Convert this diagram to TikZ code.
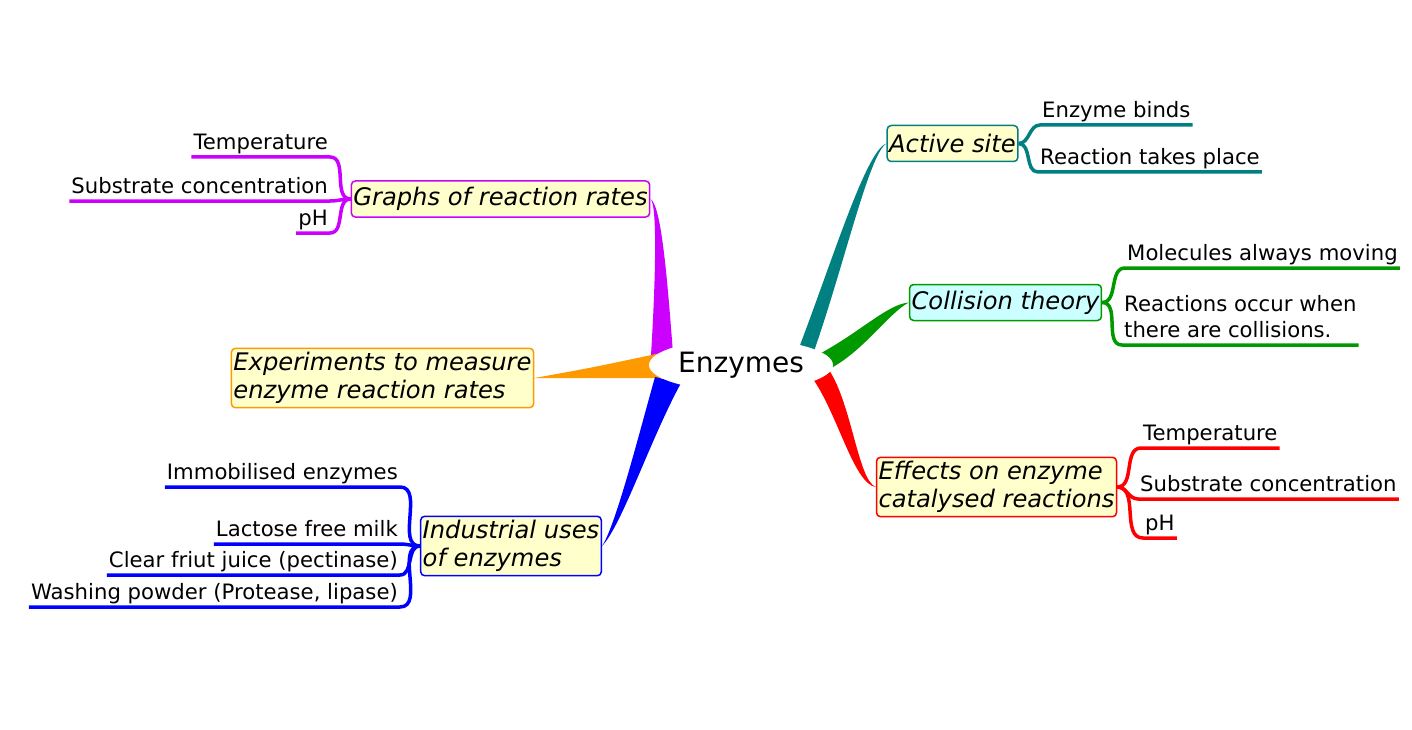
\documentclass[tikz,border=0pt]{standalone}
\usepackage{fontspec}
\setmainfont{DejaVu Sans}
\usetikzlibrary{shapes.geometric, calc, backgrounds}
\definecolor{mmteal}{RGB}{0,128,128}
\definecolor{mmgreen}{RGB}{0,153,0}
\definecolor{mmred}{RGB}{255,0,0}
\definecolor{mmpurple}{RGB}{204,0,255}
\definecolor{mmorange}{RGB}{255,153,0}
\definecolor{mmblue}{RGB}{0,0,255}
\definecolor{topicfill}{RGB}{255,255,204}
\definecolor{cyanfill}{RGB}{204,255,255}

\begin{document}
\begin{tikzpicture}[x=1pt, y=-1pt,
	topic/.style={draw, line width=1.5pt, rounded corners=4pt, fill=topicfill, align=left,
		font=\fontsize{24.2}{28}\selectfont\itshape, inner xsep=2pt, inner ysep=4pt, minimum height=36pt},
	leaf/.style={font=\fontsize{21.2}{26}\selectfont, align=left, inner xsep=2pt, inner ysep=1pt, text depth=6pt},
	twig/.style={line width=3.5pt}]
	\useasboundingbox (0,0) rectangle (1412,730);
	\node[ellipse, fill=white, minimum width=184pt, minimum height=52pt, inner sep=0pt, font=\fontsize{28}{34}\selectfont] (root) at (741,365) {Enzymes};
	% topics
	\node[topic, draw=mmteal] (act) at (952.5,143.5) {Active site};
	\node[topic, draw=mmgreen, fill=cyanfill] (coll) at (1005.5,302.5) {Collision theory};
	\node[topic, draw=mmred] (eff) at (996.5,487) {Effects on enzyme\\catalysed reactions};
	\node[topic, draw=mmpurple] (graphs) at (500.5,199) {Graphs of reaction rates};
	\node[topic, draw=mmorange] (exp) at (382.5,378) {Experiments to measure\\enzyme reaction rates};
	\node[topic, draw=mmblue] (ind) at (511,546) {Industrial uses\\of enzymes};
	% leaves
	\node[leaf, anchor=south west] (as1) at (1040,125) {Enzyme binds};
	\node[leaf, anchor=south west] (as2) at (1038,172) {Reaction takes place};
	\node[leaf, anchor=south west] (co1) at (1125,268) {Molecules always moving};
	\node[leaf, anchor=south west] (co2) at (1122,345) {Reactions occur when\\there are collisions.};
	\node[leaf, anchor=south west] (ef1) at (1141,448) {Temperature};
	\node[leaf, anchor=south west] (ef2) at (1138,499) {Substrate concentration};
	\node[leaf, anchor=south west] (ef3) at (1143,538) {pH};
	\node[leaf, anchor=south east] (gr1) at (330,157) {Temperature};
	\node[leaf, anchor=south east] (gr2) at (330,201) {Substrate concentration};
	\node[leaf, anchor=south east] (gr3) at (330,233) {pH};
	\node[leaf, anchor=south east] (in1) at (400,487) {Immobilised enzymes};
	\node[leaf, anchor=south east] (in2) at (400,544) {Lactose free milk};
	\node[leaf, anchor=south east] (in3) at (400,575) {Clear friut juice (pectinase)};
	\node[leaf, anchor=south east] (in4) at (400,607) {Washing powder (Protease, lipase)};
	% twigs
	\foreach \c in {as1,as2}
		\draw[twig, mmteal] (act.east) to[out=0, in=180] (\c.south west) -- (\c.south east);
	\foreach \c in {co1,co2}
		\draw[twig, mmgreen] (coll.east) to[out=0, in=180] (\c.south west) -- (\c.south east);
	\foreach \c in {ef1,ef2,ef3}
		\draw[twig, mmred] (eff.east) to[out=0, in=180] (\c.south west) -- (\c.south east);
	\foreach \c in {gr1,gr2,gr3}
		\draw[twig, mmpurple] (graphs.west) to[out=180, in=0] (\c.south east) -- (\c.south west);
	\foreach \c in {in1,in2,in3,in4}
		\draw[twig, mmblue] (ind.west) to[out=180, in=0] (\c.south east) -- (\c.south west);
	% branches
	\begin{pgfonlayer}{background}
		\fill[mmteal] ($(root)+(56,-12)$) .. controls (832,262) and (866,150) .. (act.west)
			.. controls (869,154) and (844,266) .. ($(root)+(72,-11)$) -- cycle;
		\fill[mmgreen] ($(root)+(80,-12)$) .. controls (860,332) and (888,304) .. (coll.west)
			.. controls (890,312) and (866,348) .. ($(root)+(92,2)$) -- cycle;
		\fill[mmred] ($(root)+(88,5)$) .. controls (852,405) and (858,480) .. (eff.west)
			.. controls (854,484) and (838,415) .. ($(root)+(72,14)$) -- cycle;
		\fill[mmpurple] ($(root)+(-90,-10)$) .. controls (655,290) and (658,205) .. (graphs.east)
			.. controls (662,205) and (668,290) .. ($(root)+(-68,-12)$) -- cycle;
		\fill[mmorange] (exp.east) .. controls (590,368) .. ($(root)+(-80,-12)$)
			-- ($(root)+(-80,13)$) .. controls (590,378) .. (exp.east) -- cycle;
		\fill[mmblue] ($(root)+(-86,12)$) .. controls (640,430) and (616,525) .. (ind.east)
			.. controls (622,525) and (650,440) .. ($(root)+(-60,18)$) -- cycle;
	\end{pgfonlayer}
\end{tikzpicture}
\end{document}
